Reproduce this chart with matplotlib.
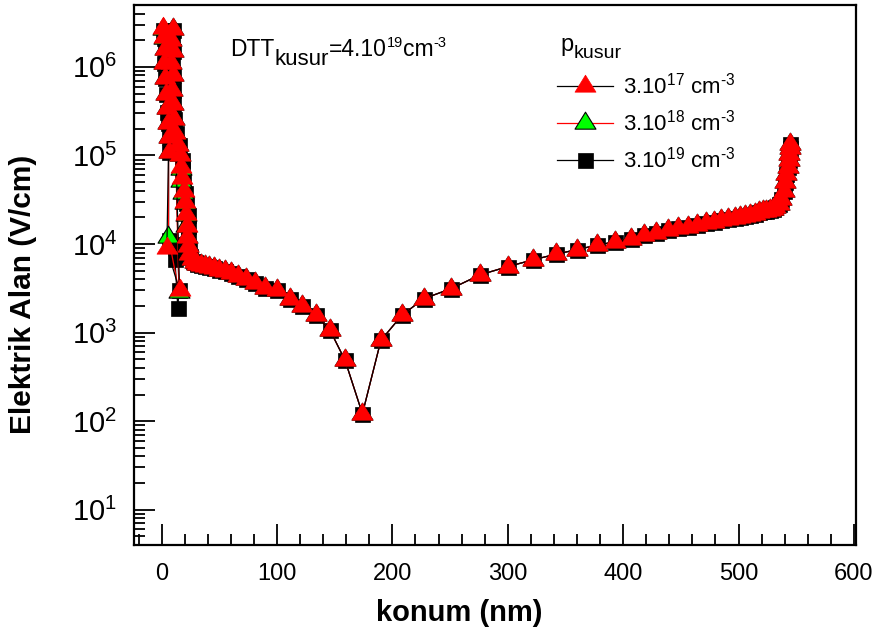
import numpy as np
import matplotlib
matplotlib.use("Agg")
import matplotlib.pyplot as plt
from matplotlib.path import Path
from matplotlib.transforms import IdentityTransform
from matplotlib.ticker import LogLocator, MultipleLocator, NullFormatter

plt.rcParams.update({
    "font.family": ["Liberation Sans", "DejaVu Sans"],
    "mathtext.fontset": "custom",
    "mathtext.rm": "Liberation Sans",
    "mathtext.it": "Liberation Sans:italic",
    "mathtext.bf": "Liberation Sans:bold",
    "mathtext.default": "regular",
})

# --- data (position in nm, electric field in V/cm) -------------------------
# left spike region, different for each defect density
x_head_17 = [1.0, 2.0, 2.5, 2.0, 3.0, 3.5, 4.5, 5.5, 6.0, 6.0, 4.5, 15.5,
             9.5, 8.5, 9.5, 8.5, 9.5, 9.0, 9.5, 10.5, 12.0, 14.0, 16.0, 17.0,
             17.5, 19.0, 20.5, 21.5, 22.0, 22.0, 22.5, 24.0, 26.5]
e_head_17 = [2.75e6, 2.2e6, 1.6e6, 1.1e6, 7.5e5, 5.0e5, 3.4e5, 2.3e5, 1.6e5,
             1.1e5, 9.0e3, 3.0e3,
             2.7e6, 2.0e6, 1.5e6, 1.1e6, 8.0e5, 5.5e5, 3.8e5, 2.6e5, 1.8e5,
             1.3e5, 1.0e5, 7.5e4, 5.5e4, 4.0e4, 3.0e4, 2.2e4, 1.6e4, 1.2e4,
             9.5e3, 7.8e3, 6.8e3]

x_head_18 = [1.0, 2.0, 2.5, 2.0, 3.0, 3.5, 4.5, 5.5, 6.0, 6.0, 5.9, 15.0,
             9.5, 8.5, 9.5, 8.5, 9.5, 9.0, 9.5, 10.5, 12.0, 14.0, 16.0, 16.5,
             17.0, 18.5, 20.0, 21.0, 21.5, 22.0, 22.5, 24.0, 26.5]
e_head_18 = [2.7e6, 2.1e6, 1.6e6, 1.1e6, 7.5e5, 5.0e5, 3.4e5, 2.3e5, 1.6e5,
             1.1e5, 1.2e4, 2.9e3,
             2.7e6, 2.0e6, 1.5e6, 1.1e6, 8.0e5, 5.5e5, 3.8e5, 2.6e5, 1.8e5,
             1.3e5, 1.0e5, 7.0e4, 5.2e4, 3.8e4, 2.9e4, 2.1e4, 1.6e4, 1.2e4,
             9.5e3, 7.8e3, 6.8e3]

x_head_19 = [1.0, 2.0, 2.5, 2.0, 3.0, 3.5, 4.5, 5.5, 6.0, 6.0, 6.0, 11.5,
             14.0, 15.0,
             10.0, 9.0, 10.0, 9.0, 10.0, 9.5, 10.0, 11.0, 12.5, 15.0, 17.5,
             18.0, 18.5, 20.0, 21.5, 22.5, 23.0, 23.0, 14.0, 23.5, 25.0, 27.0]
e_head_19 = [2.6e6, 2.1e6, 1.6e6, 1.1e6, 7.5e5, 5.0e5, 3.1e5, 2.3e5, 1.6e5,
             1.1e5, 1.1e4, 6.8e3, 1.9e3, 3.0e3,
             2.6e6, 2.0e6, 1.5e6, 1.1e6, 8.0e5, 5.5e5, 3.8e5, 2.6e5, 1.8e5,
             1.3e5, 9.0e4, 7.0e4, 5.2e4, 3.8e4, 2.9e4, 2.1e4, 1.6e4, 1.2e4,
             1.0e4, 8.5e3, 7.4e3, 6.5e3]

# rest of the profile, identical for the three densities
x_tail = [28.5, 31, 34, 37.5, 41, 45, 49.5, 54.5, 60, 66, 73, 81, 90, 100,
          111.5, 121.5, 134, 146, 159, 174, 190, 208, 227, 251, 276, 300,
          322, 342, 360, 377, 393, 406.5, 418, 428.5, 438.5, 447.5, 456, 464,
          471.5, 478.5, 485, 491, 496.5, 501.5, 506, 510, 514, 517.5, 521,
          524, 527, 529.5, 532, 535, 537, 539, 540.5, 541.5, 542.5, 543.5,
          544, 544.5, 545]
e_tail = [6300, 6000, 5800, 5600, 5450, 5300, 5150, 4950, 4700, 4400, 4050,
          3600, 3200, 2990, 2410, 2020, 1560, 1060, 485, 121, 815, 1560, 2410,
          3140, 4490, 5560, 6640, 7690, 8650, 9690, 10600, 11500, 12500,
          13400, 14300, 15000, 15700, 16400, 17100, 17800, 18500, 19100,
          19700, 20300, 20900, 21500, 22100, 22700, 23300, 23900, 24500,
          25100, 26000, 28000, 32000, 40000, 50000, 62000, 75000, 90000,
          105000, 120000, 135000]

y_major = [1e1, 1e2, 1e3, 1e4, 1e5, 1e6]

HY = "\u2010"  # plain hyphen in superscripts, as in the original
labels = [f"3.10$^{{17}}$ cm$^{{{HY}3}}$", f"3.10$^{{18}}$ cm$^{{{HY}3}}$",
          f"3.10$^{{19}}$ cm$^{{{HY}3}}$"]

# triangle marker with its centroid at the data point
TRI = Path([(-1, -0.54), (1, -0.54), (0, 1.08), (-1, -0.54)],
           [Path.MOVETO, Path.LINETO, Path.LINETO, Path.CLOSEPOLY])


def rich_text(ax, x, y, parts):
    """Write text pieces one after another; parts = (text, size, baseline shift in pt)."""
    fig = ax.figure
    r = fig.canvas.get_renderer()
    px, py = ax.transAxes.transform((x, y))
    for s, fs, dy in parts:
        t = fig.text(px, py + dy * fig.dpi / 72, s, fontsize=fs, va="baseline",
                     ha="left", transform=IdentityTransform())
        px = t.get_window_extent(r).x1


fig = plt.figure(figsize=(8.79, 6.32), dpi=100)
ax = fig.add_axes([0.1524, 0.1377, 0.8217, 0.8544])

h19, = ax.plot(x_head_19 + x_tail, e_head_19 + e_tail, "-", color="black",
               lw=0.9, marker="s", ms=10.8, mfc="black", mec="black",
               mew=0.5, label=labels[2])
h18, = ax.plot(x_head_18 + x_tail, e_head_18 + e_tail, "-", color="red",
               lw=0.9, marker=TRI, ms=16.3, mfc="#00ff00", mec="black",
               mew=0.8, label=labels[1])
h17, = ax.plot(x_head_17 + x_tail, e_head_17 + e_tail, "-", color="black",
               lw=0.9, marker=TRI, ms=16.3, mfc="red", mec="red",
               mew=0.5, label=labels[0])

ax.set_yscale("log")
ax.set_xlim(-24, 602)
ax.set_ylim(4, 5e6)

ax.xaxis.set_major_locator(MultipleLocator(100))
ax.xaxis.set_minor_locator(MultipleLocator(20))
ax.set_yticks(y_major)
ax.yaxis.set_minor_locator(LogLocator(base=10, subs=np.arange(2, 10), numticks=20))
ax.yaxis.set_minor_formatter(NullFormatter())

ax.tick_params(which="both", direction="in", top=False, right=False, width=1.3)
ax.tick_params(which="major", length=15)
ax.tick_params(which="minor", length=8)
ax.tick_params(axis="x", which="major", pad=13, labelsize=17)
ax.tick_params(axis="y", which="major", pad=12, labelsize=21)
for sp in ax.spines.values():
    sp.set_linewidth(1.6)

ax.set_xlabel("konum (nm)", fontsize=21, fontweight="bold")
ax.set_ylabel("Elektrik Alan (V/cm)", fontsize=21.5, fontweight="bold")
ax.xaxis.set_label_coords(0.45, -0.1)
ax.yaxis.set_label_coords(-0.134, 0.465)

# annotation: DTT_kusur = 4.10^19 cm^-3
rich_text(ax, 0.133, 0.905, [("DTT", 16.5, 0), ("kusur", 16, -6),
                             ("=4.10", 16.5, 0), ("19", 10.5, 7),
                             ("cm", 16.5, 0), ("-3", 10.5, 7)])

# legend title drawn on its own, so the gap to the entries can be set
rich_text(ax, 0.590, 0.915, [("p", 17, 0), ("kusur", 14, -5)])
leg = ax.legend(handles=[h17, h18, h19], loc="upper left",
                bbox_to_anchor=(0.586, 0.875), frameon=False, fontsize=16,
                handlelength=2.5, handletextpad=0.45, labelspacing=0.5,
                borderpad=0, borderaxespad=0)

fig.savefig("out.png", dpi=100)
